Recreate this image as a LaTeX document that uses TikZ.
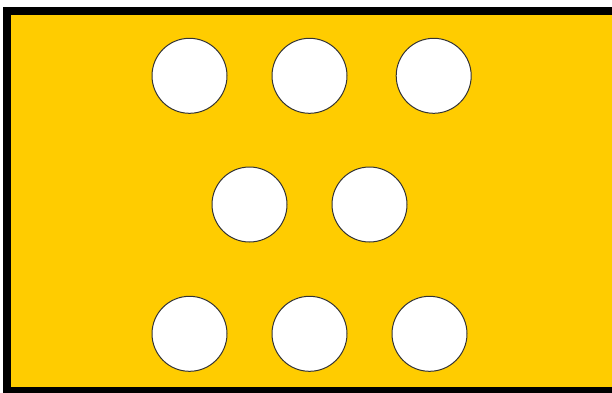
\documentclass[tikz,border=0pt]{standalone}
\usetikzlibrary{positioning}
\definecolor{boardyellow}{HTML}{FFCC00}
\tikzset{
board/.style={draw=black,line width=8pt,fill=boardyellow},
hole/.style={draw=black!80,circle,fill=white,line width=1pt,minimum size=75pt,inner sep=0pt}
}
\begin{document}
\begin{tikzpicture}[x=1pt,y=-1pt]
\useasboundingbox (0,0) rectangle (612,392);
\clip (0,0) rectangle (612,392);
\draw[board] (7,11) rectangle (615.5,391);
% top row
\node[hole] (t1) at (189.5,75.8) {};
\node[hole] (t2) at (309.5,75.8) {};
\node[hole] (t3) at (433.7,75.8) {};
% middle row
\node[hole] (m1) at (249.5,204.5) {};
\node[hole] (m2) at (369.5,204.5) {};
% bottom row
\node[hole] (b1) at (189.5,333.8) {};
\node[hole] (b2) at (309.5,333.8) {};
\node[hole] (b3) at (429.5,333.8) {};
\end{tikzpicture}
\end{document}
